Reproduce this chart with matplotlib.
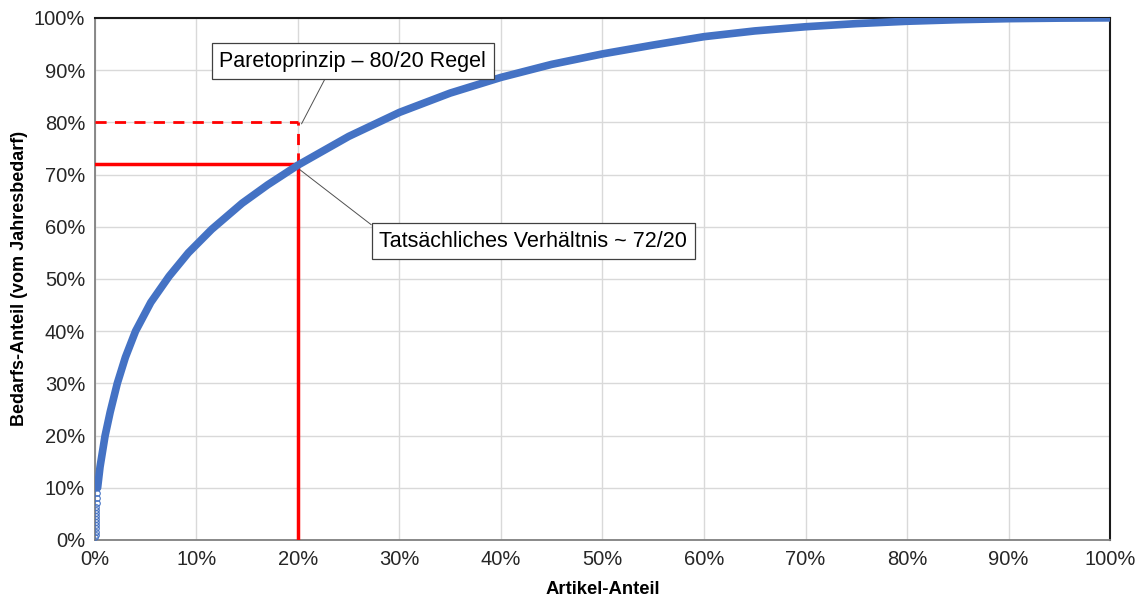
import matplotlib.pyplot as plt
from matplotlib.ticker import FuncFormatter, MultipleLocator

plt.rcParams["font.family"] = ["Liberation Sans", "DejaVu Sans"]

# Kumulierte Bedarfskurve (Artikel-Anteil in %, Bedarfs-Anteil in %)
artikel_anteil = [0.26, 0.5, 1.0, 1.5, 2.2, 3.0, 4.0, 5.5, 7.3, 9.2, 11.5, 14.5,
                  17.0, 20.0, 25.0, 30.0, 35.0, 40.0, 45.0, 50.0, 55.0, 60.0,
                  65.0, 70.0, 75.0, 80.0, 85.0, 90.0, 95.0, 100.0]
bedarfs_anteil = [10.0, 14.0, 20.0, 24.5, 30.0, 35.0, 40.0, 45.5, 50.5, 55.0, 59.5, 64.5,
                  68.0, 71.8, 77.3, 81.9, 85.6, 88.6, 91.1, 93.1, 94.8, 96.4,
                  97.5, 98.3, 98.9, 99.35, 99.65, 99.85, 99.95, 100.0]

# einzelne Artikel am Anfang der Kurve
start_x = [0.05, 0.06, 0.07, 0.08, 0.09, 0.1, 0.11, 0.12, 0.13, 0.14, 0.15, 0.16, 0.18, 0.2]
start_y = [0.5, 1.0, 1.6, 2.2, 2.8, 3.4, 4.0, 4.6, 5.2, 5.8, 6.4, 7.0, 8.0, 9.0]

pareto_x, pareto_y = 20, 80
ist_x, ist_y = 20, 72

blau = "#4472C4"

fig = plt.figure(figsize=(11.4, 5.96), dpi=100)
ax = fig.add_axes([0.0833, 0.094, 0.8904, 0.876])

ax.plot(artikel_anteil, bedarfs_anteil, color=blau, lw=5.5,
        solid_capstyle="round", solid_joinstyle="round", zorder=4)
ax.plot(start_x, start_y, ls="none", marker="o", ms=4, mfc="none", mec=blau, mew=0.8, zorder=4)

# 80/20 Regel gestrichelt, tatsächlicher Wert durchgezogen
ax.plot([0, pareto_x], [pareto_y, pareto_y], color="red", lw=2, ls=(0, (4, 3)), zorder=3)
ax.plot([pareto_x, pareto_x], [ist_y, pareto_y], color="red", lw=2, ls=(0, (4, 3)), zorder=3)
ax.plot([0, ist_x], [ist_y, ist_y], color="red", lw=2.5, zorder=3)
ax.plot([ist_x, ist_x], [0, ist_y], color="red", lw=2.5, zorder=3)

box = dict(boxstyle="square,pad=0.35", fc="white", ec="#404040", lw=0.9)
ax.annotate("Paretoprinzip – 80/20 Regel", xy=(20.35, 79.7),
            xytext=(12.25, 91.7), fontsize=15.5, va="center", ha="left",
            bbox=box, zorder=5,
            arrowprops=dict(arrowstyle="-", color="#505050", lw=0.7,
                            shrinkA=0, shrinkB=0, relpos=(0.41, 0)))
ax.annotate("Tatsächliches Verhältnis ~ 72/20", xy=(20.2, 70.9),
            xytext=(28.0, 57.2), fontsize=15.5, va="center", ha="left",
            bbox=box, zorder=5,
            arrowprops=dict(arrowstyle="-", color="#505050", lw=0.7,
                            shrinkA=0, shrinkB=0, relpos=(0, 1)))

ax.set_xlim(0, 100)
ax.set_ylim(0, 100)
ax.xaxis.set_major_locator(MultipleLocator(10))
ax.yaxis.set_major_locator(MultipleLocator(10))
prozent = FuncFormatter(lambda v, _: f"{v:.0f}%")
ax.xaxis.set_major_formatter(prozent)
ax.yaxis.set_major_formatter(prozent)
ax.tick_params(length=0, labelsize=14.5, pad=7, colors="#262626")
ax.grid(True, color="#D9D9D9", lw=1)
ax.set_axisbelow(True)

for s in ["left", "bottom"]:
    ax.spines[s].set_color("#808080")
    ax.spines[s].set_linewidth(1.3)
for s in ["top", "right"]:
    ax.spines[s].set_color("#1a1a1a")
    ax.spines[s].set_linewidth(1.5)

ax.set_xlabel("Artikel-Anteil", fontsize=13.3, fontweight="bold", labelpad=9)
ax.set_ylabel("Bedarfs-Anteil (vom Jahresbedarf)", fontsize=13, fontweight="bold", labelpad=4)

fig.savefig("out.png", dpi=100)
